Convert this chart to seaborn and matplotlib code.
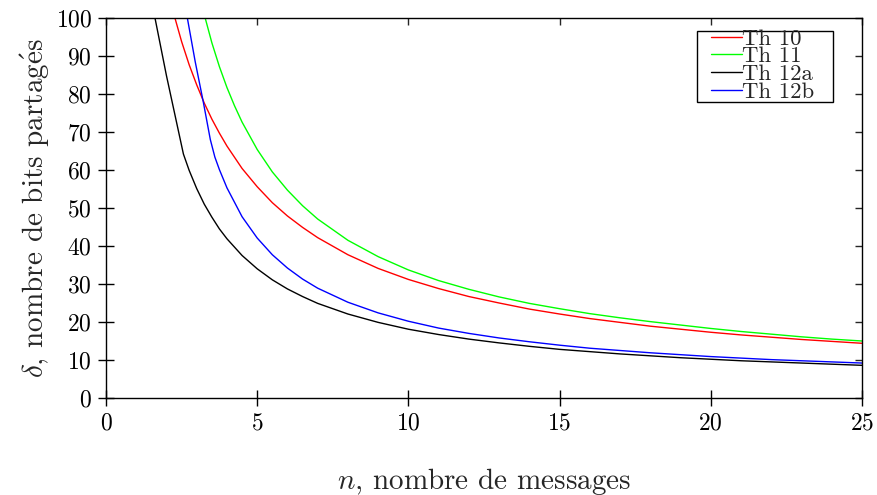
import matplotlib
matplotlib.use("Agg")
import matplotlib.pyplot as plt
from matplotlib.patches import Rectangle
import seaborn as sns
import pandas as pd

# Shared bits delta needed for n messages, one series per theorem
th10_n = [2.28, 2.5, 2.75, 3.0, 3.25, 3.5, 3.75, 4.0, 4.5, 5.0, 5.5, 6.0, 6.5, 7.0, 8, 9, 10, 11, 12,
          13, 14, 15, 16, 17, 18, 19, 20, 21, 22, 23, 24, 25]
th10_d = [100, 93.8, 87.7, 82.4, 77.6, 73.4, 69.7, 66.3, 60.4, 55.6, 51.4, 47.9, 44.9, 42.2, 37.7, 34.1,
          31.2, 28.8, 26.7, 25.0, 23.4, 22.1, 20.9, 19.9, 18.9, 18.1, 17.3, 16.6, 16.0, 15.4, 14.9, 14.4]

th11_n = [3.28, 3.5, 3.75, 4.0, 4.25, 4.5, 5.0, 5.5, 6.0, 6.5, 7.0, 8, 9, 10, 11, 12, 13, 14, 15, 16,
          17, 18, 19, 20, 21, 22, 23, 24, 25]
th11_d = [100, 93.5, 87.2, 81.7, 76.9, 72.6, 65.4, 59.5, 54.7, 50.6, 47.1, 41.5, 37.2, 33.7, 30.9,
          28.6, 26.6, 24.9, 23.5, 22.2, 21.1, 20.1, 19.2, 18.3, 17.5, 16.8, 16.1, 15.5, 15.0]

th12a_n = [1.62, 2.0, 2.56, 2.75, 3.0, 3.25, 3.5, 3.75, 4.0, 4.5, 5.0, 5.5, 6.0, 6.5, 7.0, 8, 9, 10, 11,
           12, 13, 14, 15, 16, 17, 18, 19, 20, 21, 22, 23, 24, 25]
th12a_d = [100, 84.8, 64.2, 59.9, 55.1, 51.0, 47.6, 44.5, 41.9, 37.5, 34.0, 31.1, 28.7, 26.7, 24.9,
           22.1, 19.9, 18.1, 16.7, 15.5, 14.5, 13.6, 12.8, 12.2, 11.6, 11.1, 10.6, 10.2, 9.8, 9.5,
           9.2, 8.9, 8.6]

th12b_n = [2.69, 2.95, 3.22, 3.45, 3.6, 3.75, 4.0, 4.5, 5.0, 5.5, 6.0, 6.5, 7.0, 8, 9, 10, 11, 12, 13,
           14, 15, 16, 17, 18, 19, 20, 21, 22, 23, 24, 25]
th12b_d = [100, 88.5, 77.8, 68.0, 63.4, 60.1, 55.3, 47.7, 42.1, 37.7, 34.2, 31.3, 28.9, 25.2, 22.4,
           20.2, 18.4, 17.0, 15.8, 14.8, 13.9, 13.1, 12.5, 11.9, 11.4, 10.9, 10.5, 10.1, 9.8, 9.5, 9.2]

labels = ["Th 10", "Th 11", "Th 12a", "Th 12b"]
colors = ["#ff0000", "#00ff00", "#000000", "#0000ff"]

frames = []
for lab, xs, ys in zip(labels, [th10_n, th11_n, th12a_n, th12b_n], [th10_d, th11_d, th12a_d, th12b_d]):
    frames.append(pd.DataFrame({"n": xs, "delta": ys, "serie": lab}))
df = pd.concat(frames, ignore_index=True)

sns.set_style("ticks")
plt.rcParams["font.family"] = ["cmr10", "DejaVu Serif"]
plt.rcParams["mathtext.fontset"] = "cm"
plt.rcParams["axes.formatter.use_mathtext"] = True
plt.rcParams["axes.unicode_minus"] = False

fig = plt.figure(figsize=(8.77, 4.95), dpi=100)
ax = fig.add_axes([106 / 877, 1 - 398 / 495, 756 / 877, 380 / 495])

sns.lineplot(data=df, x="n", y="delta", hue="serie", hue_order=labels,
             palette=dict(zip(labels, colors)), linewidth=1.0, sort=False,
             estimator=None, ax=ax)

ax.set_xlim(0, 25)
ax.set_ylim(0, 100)
ax.set_xticks(range(0, 26, 5))
ax.set_yticks(range(0, 101, 10))

for sp in ax.spines.values():
    sp.set_visible(True)
    sp.set_linewidth(1.0)
    sp.set_color("black")

ax.tick_params(axis="both", direction="inout", length=12, width=1.0,
               labelsize=17, colors="black", pad=4)

# inward mirror ticks on the top and right edges
top = ax.secondary_xaxis("top")
top.set_xticks(range(0, 26, 5))
top.tick_params(direction="in", length=5, width=1.0, labeltop=False)
right = ax.secondary_yaxis("right")
right.set_yticks(range(0, 101, 10))
right.tick_params(direction="in", length=5, width=1.0, labelright=False)
for s in (top, right):
    for sp in s.spines.values():
        sp.set_visible(False)

ax.set_xlabel(r"$n$, nombre de messages", fontsize=21)
ax.xaxis.set_label_coords(0.5, -0.178)
ax.set_ylabel(r"$\delta$, nombre de bits partag$\mathrm{\acute{e}}$s", fontsize=21)
ax.yaxis.set_label_coords(-0.072, 0.5)

# legend box and entries
ax.add_patch(Rectangle((0.7817, 0.7797), 0.1799, 0.1869, transform=ax.transAxes,
                       facecolor="white", edgecolor="black", linewidth=1.0, zorder=4))
leg = ax.legend(loc="upper left", bbox_to_anchor=(0.8003, 0.972), borderaxespad=0,
                fontsize=16.4, frameon=False, handlelength=1.35, handletextpad=0.0,
                labelspacing=-0.1, borderpad=0, title=None)
leg.set_zorder(5)

fig.savefig("out.png", dpi=100)
